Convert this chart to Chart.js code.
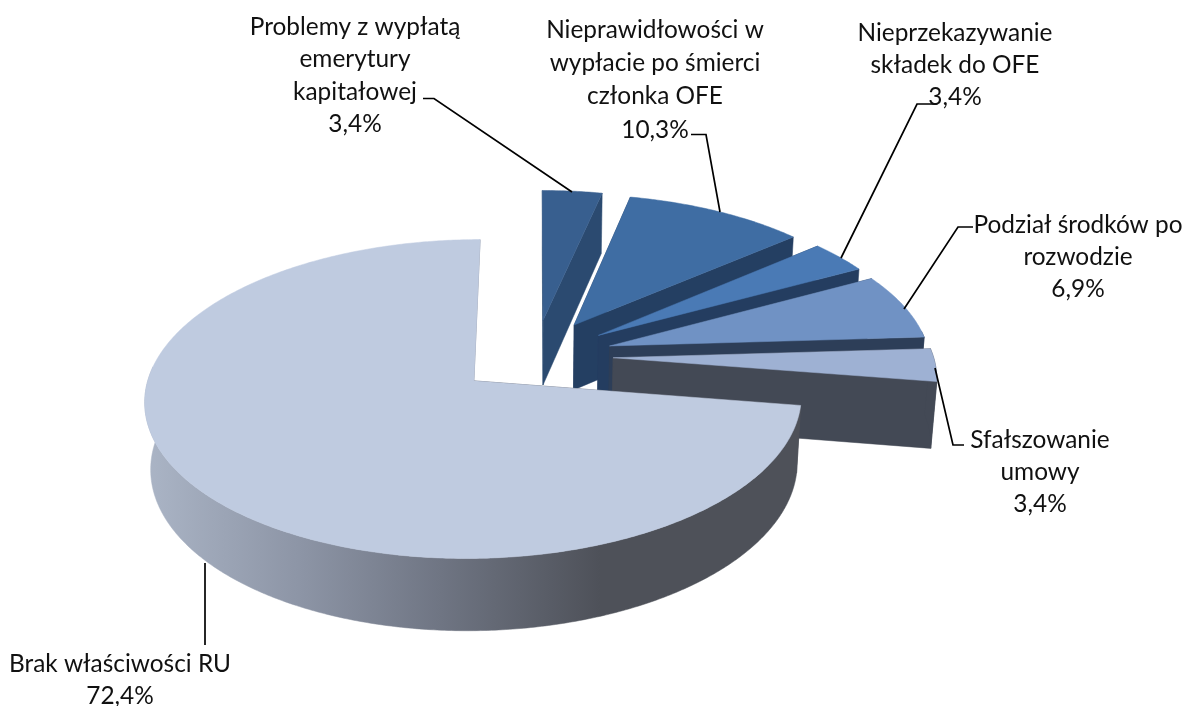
<!DOCTYPE html>
<html lang="pl">
<head>
<meta charset="utf-8">
<title>Wykres</title>
<script src="https://cdn.jsdelivr.net/npm/chart.js@4/dist/chart.umd.min.js"></script>
<style>
html,body{margin:0;padding:0;background:#fff}
canvas{display:block}
</style>
</head>
<body>
<canvas id="c" width="1187" height="706"></canvas>
<script>
const categories = [
  "Problemy z wypłatą emerytury kapitałowej",
  "Nieprawidłowości w wypłacie po śmierci członka OFE",
  "Nieprzekazywanie składek do OFE",
  "Podział środków po rozwodzie",
  "Sfałszowanie umowy",
  "Brak właściwości RU"
];
const shares = [3.4, 10.3, 3.4, 6.9, 3.4, 72.4];
const labelLines = [
  ["Problemy z wypłatą", "emerytury", "kapitałowej"],
  ["Nieprawidłowości w", "wypłacie po śmierci", "członka OFE"],
  ["Nieprzekazywanie", "składek do OFE"],
  ["Podział środków po", "rozwodzie"],
  ["Sfałszowanie", "umowy"],
  ["Brak właściwości RU"]
];
const topColors  = ["#385F8F", "#3F6DA3", "#4A7AB5", "#7092C4", "#9EB1D3", "#BFCBE0"];
const sideColors = ["#2B4A70", "#243F62", "#243D60", "#2D3E58", "#434955", "#4E5159"];
const explode = [74, 74, 74, 74, 74, 75];

// label layout: centre x, first-line centre y, line pitch; leader polylines
const labelPos = [
  [355, 27, 32.5], [655, 30, 33.3], [955, 33, 32], [1078, 225, 32], [1040, 440, 32], [120, 664, 32]
];
const leaders = [
  [[423,98.5],[434,98.5],[572,192]],
  [[691,134.5],[706,134.5],[720,212]],
  [[935,104],[917,104],[841,258]],
  [[973,227],[958,227],[904,309]],
  [[935,368],[953,445],[964,445]],
  [[205,563],[205,645]]
];

// 3D view parameters
const view = { sx: 1.055, sy: 0.50, k: 0.112, kd: 0.015, dz: 67 };

const pie3d = {
  id: 'pie3d',
  beforeDatasetDraw(chart) {
    const ctx = chart.ctx;
    const meta = chart.getDatasetMeta(0);
    meta.data.forEach((el, i) => drawSlice(ctx, el, i));
    return false;
  },
  afterDraw(chart) {
    const ctx = chart.ctx;
    ctx.save();
    ctx.strokeStyle = '#000';
    ctx.lineWidth = 1.7;
    leaders.forEach(pts => {
      ctx.beginPath();
      pts.forEach((p, i) => i ? ctx.lineTo(p[0], p[1]) : ctx.moveTo(p[0], p[1]));
      ctx.stroke();
    });
    ctx.fillStyle = '#111';
    ctx.font = '24.4px Lato, Carlito, sans-serif';
    ctx.textAlign = 'center';
    ctx.textBaseline = 'middle';
    labelLines.forEach((lines, i) => {
      const [x, y, pitch] = labelPos[i];
      const pct = shares[i].toFixed(1).replace('.', ',') + '%';
      lines.concat([pct]).forEach((t, j) => ctx.fillText(t, x, y + j * pitch));
    });
    ctx.restore();
  }
};

function drawSlice(ctx, el, i) {
  const R = el.outerRadius, cx = el.x, cy = el.y;
  const off = el.options.offset / R;
  const a0 = el.startAngle, a1 = el.endAngle, mid = (a0 + a1) / 2;
  const ox = off * Math.cos(mid), oy = off * Math.sin(mid);
  const P = (X, Y, D) => {
    const w = 1 - view.k * Y + view.kd * D;
    return [cx + R * view.sx * X / w, cy + (R * view.sy * Y + view.dz * D) / w];
  };
  const rim = [], front = [];
  const n = Math.max(6, Math.ceil((a1 - a0) / 0.01));
  for (let s = 0; s <= n; s++) {
    const a = a0 + (a1 - a0) * s / n;
    const p = [ox + Math.cos(a), oy + Math.sin(a)];
    rim.push(p);
    if (Math.sin(a) > -0.1) front.push(p);
  }
  const poly = (pts, fill) => {
    ctx.beginPath();
    pts.forEach((p, j) => j ? ctx.lineTo(p[0], p[1]) : ctx.moveTo(p[0], p[1]));
    ctx.closePath();
    ctx.fillStyle = fill;
    ctx.fill();
    ctx.strokeStyle = fill;
    ctx.lineWidth = 0.5;
    ctx.stroke();
  };
  const big = i === categories.length - 1;
  const apexT = P(ox, oy, 0), apexB = P(ox, oy, 1);
  const first = rim[0], last = rim[rim.length - 1];
  poly([apexT, P(first[0], first[1], 0), P(first[0], first[1], 1), apexB], sideColors[i]);
  if (!big) poly([apexT, P(last[0], last[1], 0), P(last[0], last[1], 1), apexB], sideColors[i]);
  else poly([apexT, P(last[0], last[1], 0), P(last[0], last[1], 0.03), P(ox, oy, 0.03)], '#8E97A8');
  if (front.length > 1) {
    let wall = sideColors[i];
    if (big) {
      wall = ctx.createLinearGradient(144, 0, 600, 0);
      wall.addColorStop(0, '#ABB5C6');
      wall.addColorStop(0.35, '#8C94A5');
      wall.addColorStop(0.65, '#6F7583');
      wall.addColorStop(1, sideColors[i]);
    }
    poly(front.map(p => P(p[0], p[1], 0)).concat(front.map(p => P(p[0], p[1], 1)).reverse()), wall);
  }
  poly([apexT].concat(rim.map(p => P(p[0], p[1], 0))), topColors[i]);
}

new Chart(document.getElementById('c'), {
  type: 'pie',
  plugins: [pie3d],
  data: {
    labels: categories,
    datasets: [{
      data: shares,
      backgroundColor: topColors,
      offset: explode,
      borderWidth: 0
    }]
  },
  options: {
    responsive: false,
    animation: false,
    rotation: 0,
    layout: { padding: { left: 0, right: 117, top: 15, bottom: 9 } },
    plugins: { legend: { display: false }, tooltip: { enabled: false } }
  }
});
</script>
</body>
</html>
